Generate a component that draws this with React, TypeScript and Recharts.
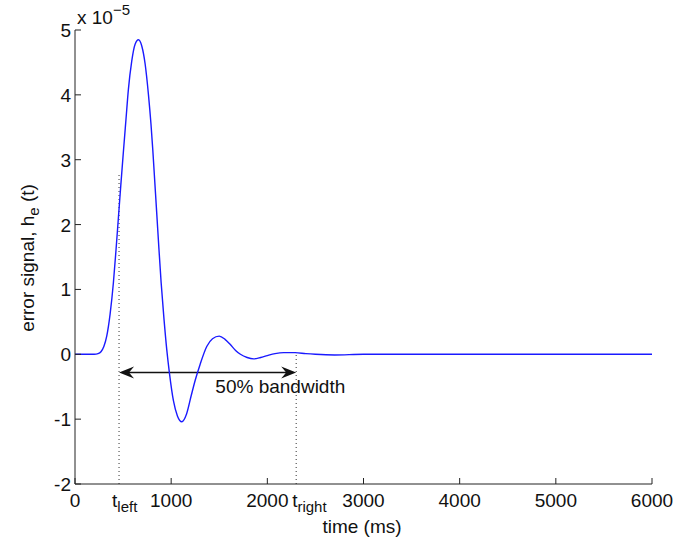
import React from "react";
import { LineChart, Line, XAxis, YAxis, ReferenceLine, ReferenceDot, Label } from "recharts";

// time (ms) and error signal (x 1e-5)
const TIME = [
  0, 200, 240, 270, 300, 330, 365, 399, 427, 451, 476, 503, 530, 555, 590, 625, 660,
  695, 729, 764, 790, 809, 830, 851, 873, 896, 925, 955, 982, 1024, 1065, 1111, 1160, 1208, 1250,
  1300, 1370, 1430, 1500, 1560, 1615, 1670, 1720, 1790, 1858, 1930, 2000, 2080, 2170, 2290,
  2400, 2500, 2700, 3000, 6000,
];
const SIGNAL = [
  0, 0, 0.01, 0.04, 0.12, 0.28, 0.62, 1.1, 1.62, 2.1, 2.6, 3.12, 3.62, 4.08, 4.52, 4.78, 4.85,
  4.75, 4.48, 4.0, 3.55, 3.15, 2.65, 2.15, 1.62, 1.1, 0.55, 0.06, -0.29, -0.72, -0.95, -1.04, -0.92, -0.64, -0.4,
  -0.16, 0.12, 0.24, 0.28, 0.23, 0.15, 0.06, 0, -0.05, -0.07, -0.05, -0.02, 0.01, 0.025, 0.025,
  0.01, 0, -0.01, 0, 0,
];

const X_TICKS = [0, 1000, 2000, 3000, 4000, 5000, 6000];
const Y_TICKS = [-2, -1, 0, 1, 2, 3, 4, 5];
const T_LEFT = 458;
const T_RIGHT = 2300;
const T_LEFT_TOP = 2.77;
const T_RIGHT_TOP = 0.025;
const ARROW_LEVEL = -0.28;

const data = TIME.map((t, i) => ({ t, v: SIGNAL[i] }));

const FONT = "'Liberation Sans', Arial, sans-serif";
const AXIS = "#222";

const BottomTick = (props: any) => {
  const { x, y, payload } = props;
  const v = payload.value;
  if (v === T_LEFT || v === T_RIGHT) {
    const sub = v === T_LEFT ? "left" : "right";
    return (
      <text x={x - (v === T_LEFT ? 7 : 4)} y={y + 23} fontSize={19} fontFamily={FONT} fill="#111">
        t<tspan fontSize={15} dy={5}>{sub}</tspan>
      </text>
    );
  }
  return (
    <g>
      <line x1={x} y1={y} x2={x} y2={y - 6} stroke={AXIS} />
      <text x={x} y={y + 23} textAnchor="middle" fontSize={19} fontFamily={FONT} fill="#111">
        {v}
      </text>
    </g>
  );
};

const TopTick = (props: any) => {
  const { x, y } = props;
  return <line x1={x} y1={y} x2={x} y2={y + 6} stroke={AXIS} />;
};

const LeftTick = (props: any) => {
  const { x, y, payload } = props;
  return (
    <g>
      <line x1={x} y1={y} x2={x + 6} y2={y} stroke={AXIS} />
      <text x={x - 4} y={y + 7} textAnchor="end" fontSize={19} fontFamily={FONT} fill="#111">
        {payload.value}
      </text>
    </g>
  );
};

const RightTick = (props: any) => {
  const { x, y } = props;
  return <line x1={x} y1={y} x2={x - 6} y2={y} stroke={AXIS} />;
};

const ArrowShape = (props: any) => {
  const { x1, y1, x2, y2 } = props;
  const head = (tip: number, dir: number) => {
    const back = tip + dir * 15;
    const notch = tip + dir * 10;
    return `M${tip},${y1} L${back},${y1 - 6} L${notch},${y1} L${back},${y1 + 6} Z`;
  };
  return (
    <g>
      <line x1={x1 + 8} y1={y1} x2={x2 - 8} y2={y2} stroke="#111" strokeWidth={1.6} />
      <path d={head(x1, 1)} fill="#111" />
      <path d={head(x2, -1)} fill="#111" />
    </g>
  );
};

export default function App() {
  return (
    <div style={{ position: "absolute", left: 0, top: 0, width: 693, height: 544, background: "#fff" }}>
      <LineChart
        width={693}
        height={544}
        data={data}
        margin={{ top: 30, right: 41, bottom: 30, left: 15 }}
      >
        <XAxis
          dataKey="t"
          type="number"
          domain={[0, 6000]}
          ticks={[...X_TICKS, T_LEFT, T_RIGHT]}
          tickSize={0}
          tickMargin={0}
          height={30}
          stroke={AXIS}
          tick={<BottomTick />}
          interval={0}
          allowDataOverflow
        />
        <XAxis
          xAxisId="top"
          orientation="top"
          dataKey="t"
          type="number"
          domain={[0, 6000]}
          ticks={X_TICKS}
          tickSize={0}
          tickMargin={0}
          height={0}
          stroke={AXIS}
          tick={<TopTick />}
          interval={0}
        />
        <YAxis
          type="number"
          domain={[-2, 5]}
          ticks={Y_TICKS}
          tickSize={0}
          tickMargin={0}
          width={60}
          stroke={AXIS}
          tick={<LeftTick />}
          interval={0}
          allowDataOverflow
        />
        <YAxis
          yAxisId="right"
          orientation="right"
          type="number"
          domain={[-2, 5]}
          ticks={Y_TICKS}
          tickSize={0}
          tickMargin={0}
          width={0}
          stroke={AXIS}
          tick={<RightTick />}
          interval={0}
        />
        <ReferenceLine
          segment={[{ x: T_LEFT, y: -2 }, { x: T_LEFT, y: T_LEFT_TOP }]}
          stroke="#333"
          strokeDasharray="1 3"
        />
        <ReferenceLine
          segment={[{ x: T_RIGHT, y: -2 }, { x: T_RIGHT, y: T_RIGHT_TOP }]}
          stroke="#333"
          strokeDasharray="1 3"
        />
        <ReferenceLine
          segment={[{ x: T_LEFT, y: ARROW_LEVEL }, { x: T_RIGHT, y: ARROW_LEVEL }]}
          shape={<ArrowShape />}
        />
        <Line
          type="monotone"
          dataKey="v"
          stroke="#1a1aff"
          strokeWidth={1.4}
          dot={false}
          isAnimationActive={false}
        />
        <ReferenceDot x={2135} y={-0.49} r={0} fill="none" stroke="none">
          <Label
            value="50% bandwidth"
            position="center"
            fontSize={19}
            fontFamily={FONT}
            fill="#111"
          />
        </ReferenceDot>
      </LineChart>
      <svg
        width={693}
        height={544}
        style={{ position: "absolute", left: 0, top: 0, pointerEvents: "none" }}
      >
        <text x={77} y={24} fontSize={19} fontFamily={FONT} fill="#111">
          x 10<tspan fontSize={15} dy={-9}>−5</tspan>
        </text>
        <text
          x={0}
          y={0}
          transform="translate(34,258) rotate(-90)"
          textAnchor="middle"
          fontSize={19}
          fontFamily={FONT}
          fill="#111"
        >
          error signal, h<tspan fontSize={15} dy={5}>e</tspan>
          <tspan dy={-5}> (t)</tspan>
        </text>
        <text x={362} y={533} textAnchor="middle" fontSize={19} fontFamily={FONT} fill="#111">
          time (ms)
        </text>
      </svg>
    </div>
  );
}
